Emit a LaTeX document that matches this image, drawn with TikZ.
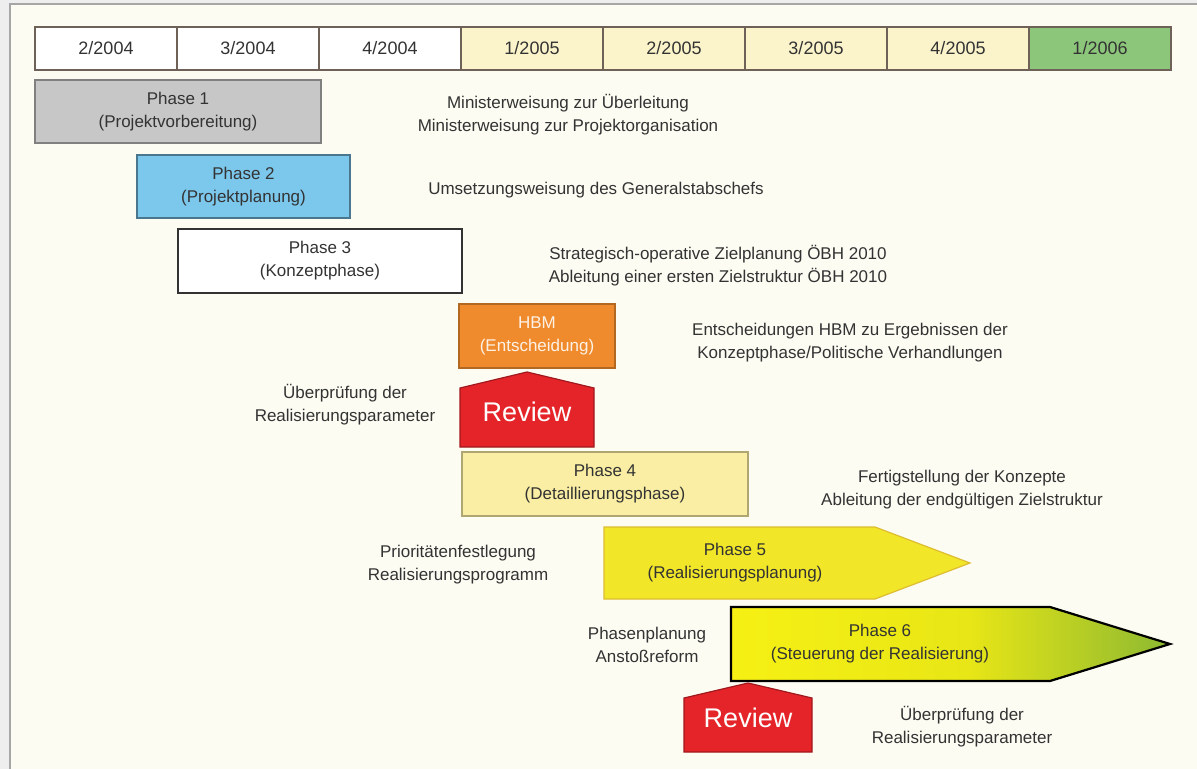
\documentclass[tikz,border=0pt]{standalone}
\usepackage{fontspec}
\setmainfont{Liberation Sans}
\definecolor{hgrau}{HTML}{EEEEEE}
\definecolor{papier}{HTML}{FCFCF3}
\definecolor{rahmen}{HTML}{6E6258}
\definecolor{gelbq}{HTML}{FBF4CB}
\definecolor{gruen}{HTML}{8CC67A}
\definecolor{grau}{HTML}{C7C7C7}
\definecolor{blau}{HTML}{7CC7EC}
\definecolor{orange}{HTML}{EF8B2C}
\definecolor{rot}{HTML}{E5242A}
\definecolor{gelbhell}{HTML}{F9EEA3}
\definecolor{gelb}{HTML}{F1E628}
\definecolor{gelbl}{HTML}{F6F014}
\definecolor{gelbm}{HTML}{E8E616}
\definecolor{oliv}{HTML}{8DB931}
\definecolor{schrift}{HTML}{333333}
% Verlauf der Phase 6: lange gelb, erst zur Spitze hin grün
\pgfdeclarehorizontalshading{phasesechs}{100bp}{color(0bp)=(gelbl); color(25bp)=(gelbl);
  color(52bp)=(gelbm); color(75bp)=(oliv); color(100bp)=(oliv)}

\begin{document}
\begin{tikzpicture}[x=0.5pt,y=-0.5pt,
                    font=\fontsize{8.5}{11.5}\selectfont,
                    txt/.style={align=center, text=schrift, inner sep=0pt},
                    review/.style={fill=rot, draw=rot!70!black, line width=0.6pt}]
  \useasboundingbox (0,0) rectangle (1197,769);
  % fonas
  \fill[hgrau] (0,0) rectangle (1197,769);
  \fill[papier] (10,4) rectangle (1197,769);
  \draw[gray!70, line width=1pt] (10,769) -- (10,4) -- (1197,4);
  % laiko juosta
  \foreach \q/\jahr/\col [count=\i from 0] in {2/2004/white, 3/2004/white, 4/2004/white,
      1/2005/gelbq, 2/2005/gelbq, 3/2005/gelbq, 4/2005/gelbq, 1/2006/gruen}
  {
    \filldraw[fill=\col, draw=rahmen, line width=0.6pt]
      ({35+142*\i},27) rectangle ({177+142*\i},70);
    \node[txt, font=\fontsize{9}{11}\selectfont] (q\i) at ({106+142*\i},48.5) {\q/\jahr};
  }
  % fazės 1--4
  \filldraw[fill=grau, draw=gray, line width=0.6pt] (35,80) rectangle (321,143);
  \node[txt] (phase1) at (178,111.5) {Phase 1\\(Projektvorbereitung)};
  \node[txt] (t1) at (568,115) {Ministerweisung zur Überleitung\\Ministerweisung zur Projektorganisation};

  \filldraw[fill=blau, draw=blau!60!black, line width=0.6pt] (137,155) rectangle (350,218);
  \node[txt] (phase2) at (243.5,186.5) {Phase 2\\(Projektplanung)};
  \node[txt] (t2) at (596,190) {Umsetzungsweisung des Generalstabschefs};

  \filldraw[fill=white, draw=schrift, line width=0.9pt] (178,229) rectangle (462,293);
  \node[txt] (phase3) at (320,261) {Phase 3\\(Konzeptphase)};
  \node[txt] (t3) at (718,266) {Strategisch-operative Zielplanung ÖBH 2010\\Ableitung einer ersten Zielstruktur ÖBH 2010};

  \filldraw[fill=orange, draw=orange!75!black, line width=0.6pt] (459,304) rectangle (615,368);
  \node[txt, text=orange!12!white] (hbm) at (537,336) {HBM\\(Entscheidung)};
  \node[txt] (t4) at (850,343) {Entscheidungen HBM zu Ergebnissen der\\Konzeptphase/Politische Verhandlungen};

  % review
  \filldraw[review] (460,447) -- (460,388) -- (527,372) -- (594,388) -- (594,447) -- cycle;
  \node[txt, text=white, font=\fontsize{13.5}{16}\selectfont] (rev1) at (527,412) {Review};
  \node[txt] (t5) at (345,405) {Überprüfung der\\Realisierungsparameter};

  \filldraw[fill=gelbhell, draw=gelbhell!70!black, line width=0.6pt] (462,452) rectangle (748,516);
  \node[txt] (phase4) at (605,484) {Phase 4\\(Detaillierungsphase)};
  \node[txt] (t6) at (962,490) {Fertigstellung der Konzepte\\Ableitung der endgültigen Zielstruktur};

  % fazės 5--6
  \node[txt] (t7) at (458,565) {Prioritätenfestlegung\\Realisierungsprogramm};
  \filldraw[fill=gelb, draw=gelb!60!brown, line width=0.6pt]
    (604,527) -- (875,527) -- (970,563) -- (875,599) -- (604,599) -- cycle;
  \node[txt] (phase5) at (735,563) {Phase 5\\(Realisierungsplanung)};

  \node[txt] (t8) at (647,645) {Phasenplanung\\Anstoßreform};
  \shade[shading=phasesechs]
    (731,607) -- (1050,607) -- (1170,644) -- (1050,681) -- (731,681) -- cycle;
  \draw[black, line width=1.1pt, line join=miter]
    (731,607) -- (1050,607) -- (1170,644) -- (1050,681) -- (731,681) -- cycle;
  \node[txt] (phase6) at (880,644) {Phase 6\\(Steuerung der Realisierung)};

  \filldraw[review] (684,752) -- (684,698) -- (748,683) -- (812,698) -- (812,752) -- cycle;
  \node[txt, text=white, font=\fontsize{13.5}{16}\selectfont] (rev2) at (748,718) {Review};
  \node[txt] (t9) at (962,727) {Überprüfung der\\Realisierungsparameter};
\end{tikzpicture}
\end{document}
